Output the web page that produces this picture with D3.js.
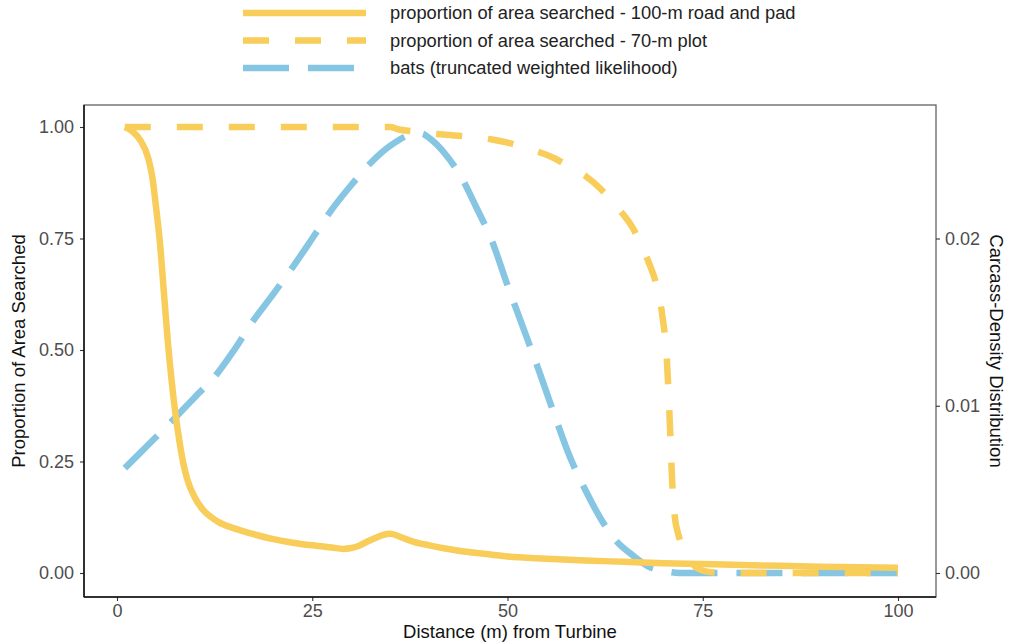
<!DOCTYPE html>
<html>
<head>
    <title>Proportion of area searched and carcass density</title>
    <script src="https://d3js.org/d3.v7.min.js"></script>
    <style>
        body {
            margin: 0;
            padding: 0;
            background: white;
            font-family: "Liberation Sans", Arial, sans-serif;
        }
        .tick-label {
            font-size: 18px;
            fill: #4d4d4d;
        }
        .axis-title {
            font-size: 18.5px;
            fill: #111;
        }
        .legend-label {
            font-size: 18.3px;
            fill: #222;
        }
    </style>
</head>
<body>
    <svg id="chart" width="1013" height="643"></svg>
    <script>
        // distance from turbine (m)
        const roadX = [1, 2, 3, 4, 4.5, 5, 5.5, 6, 6.5, 7, 7.5, 8, 8.5, 9, 10, 11, 12, 13, 15, 17.5, 20, 22.5, 25, 27.5, 29, 30, 31, 32, 33, 34, 35, 36, 37, 38, 40, 42, 45, 48, 50, 55, 60, 65, 70, 75, 80, 85, 90, 95, 100];
        const roadY = [1.0, 0.99, 0.97, 0.93, 0.89, 0.82, 0.74, 0.63, 0.52, 0.43, 0.355, 0.295, 0.245, 0.21, 0.168, 0.142, 0.126, 0.114, 0.1, 0.087, 0.076, 0.068, 0.062, 0.057, 0.054, 0.056, 0.061, 0.07, 0.078, 0.085, 0.088, 0.083, 0.076, 0.07, 0.062, 0.055, 0.047, 0.041, 0.037, 0.032, 0.028, 0.025, 0.022, 0.02, 0.018, 0.016, 0.014, 0.013, 0.012];

        const plotX = [1, 10, 20, 30, 35, 36, 38, 40, 44, 48, 50, 53, 56, 58, 60, 62, 64, 65, 66, 67, 68, 69, 69.8, 70.4, 70.8, 71.1, 71.4, 71.9, 72.8, 73.7, 74.6, 76, 78, 85, 100];
        const plotY = [1, 1, 1, 1, 1, 0.995, 0.99, 0.986, 0.98, 0.972, 0.965, 0.95, 0.93, 0.91, 0.89, 0.86, 0.82, 0.8, 0.775, 0.74, 0.7, 0.65, 0.58, 0.48, 0.33, 0.2, 0.13, 0.085, 0.045, 0.02, 0.008, 0.002, 0, 0, 0];

        // bat carcass-density distribution (right axis)
        const batX = [1, 3, 5, 7, 10, 12.5, 15, 17.5, 20, 22.5, 25, 27.5, 30, 32.5, 35, 37.5, 39, 40, 42, 44, 46, 48, 50, 52, 54, 56, 58, 60, 62, 64, 66, 68, 70, 72, 75, 85, 100];
        const batY = [0.00627, 0.0072, 0.00813, 0.00907, 0.01053, 0.01173, 0.01333, 0.01512, 0.01667, 0.01829, 0.02, 0.02173, 0.0232, 0.02453, 0.02555, 0.02619, 0.02627, 0.026, 0.02507, 0.02373, 0.02187, 0.01987, 0.0172, 0.01467, 0.01213, 0.00947, 0.00693, 0.00493, 0.0032, 0.00187, 0.00107, 0.0004, 0.00013, 0, 0, 0, 0];

        const xTicks = [0, 25, 50, 75, 100];
        const yTicks = [0, 0.25, 0.5, 0.75, 1];
        const y2Ticks = [0, 0.01, 0.02];
        const secFactor = 37.5;

        const seriesNames = [
            'proportion of area searched - 100-m road and pad',
            'proportion of area searched - 70-m plot',
            'bats (truncated weighted likelihood)'
        ];
        const yellow = '#f8cd5a';
        const blue = '#86c6e3';

        const svg = d3.select('#chart');

        // panel box
        const panel = { left: 84, right: 936, top: 105, bottom: 597 };

        const x = d3.scaleLinear().domain([0, 100]).range([117, 898]);
        const y = d3.scaleLinear().domain([0, 1]).range([573, 127]);
        const y2 = d3.scaleLinear().domain([0, 1 / secFactor]).range([573, 127]);

        const fmt2 = d3.format('.2f');

        svg.append('rect')
            .attr('x', panel.left).attr('y', panel.top)
            .attr('width', panel.right - panel.left)
            .attr('height', panel.bottom - panel.top)
            .attr('fill', 'none')
            .attr('stroke', '#555')
            .attr('stroke-width', 1.2);

        const left = svg.append('g').attr('transform', `translate(${panel.left},0)`)
            .call(d3.axisLeft(y).tickValues(yTicks).tickFormat(fmt2).tickSize(4).tickPadding(6));
        const right = svg.append('g').attr('transform', `translate(${panel.right},0)`)
            .call(d3.axisRight(y2).tickValues(y2Ticks).tickFormat(fmt2).tickSize(4).tickPadding(5));
        const bottom = svg.append('g').attr('transform', `translate(0,${panel.bottom})`)
            .call(d3.axisBottom(x).tickValues(xTicks).tickSize(4).tickPadding(3));

        [left, right, bottom].forEach(g => {
            g.select('.domain').remove();
            g.selectAll('.tick line').attr('stroke', '#333').attr('stroke-width', 1.1);
            g.selectAll('.tick text').attr('class', 'tick-label').attr('font-family', null).attr('font-size', null);
        });

        // left and bottom axis lines
        svg.append('line')
            .attr('x1', panel.left).attr('x2', panel.left)
            .attr('y1', panel.top).attr('y2', panel.bottom)
            .attr('stroke', '#111').attr('stroke-width', 1.5);
        svg.append('line')
            .attr('x1', panel.left).attr('x2', panel.right)
            .attr('y1', panel.bottom).attr('y2', panel.bottom)
            .attr('stroke', '#111').attr('stroke-width', 1.5);

        const line = (xs, ys, scale) => d3.line()
            .x((d, i) => x(xs[i]))
            .y(d => scale(d))
            .curve(d3.curveMonotoneX)(ys);

        const plotArea = svg.append('g');

        plotArea.append('path')
            .attr('d', line(batX, batY, y2))
            .attr('fill', 'none').attr('stroke', blue)
            .attr('stroke-width', 6.5).attr('stroke-dasharray', '46,19');

        plotArea.append('path')
            .attr('d', line(plotX, plotY, y))
            .attr('fill', 'none').attr('stroke', yellow)
            .attr('stroke-width', 6.5).attr('stroke-dasharray', '26,26');

        plotArea.append('path')
            .attr('d', line(roadX, roadY, y))
            .attr('fill', 'none').attr('stroke', yellow)
            .attr('stroke-width', 6.5);

        // axis titles
        svg.append('text').attr('class', 'axis-title')
            .attr('x', (panel.left + panel.right) / 2).attr('y', 638)
            .attr('text-anchor', 'middle')
            .text('Distance (m) from Turbine');

        svg.append('text').attr('class', 'axis-title')
            .attr('transform', `translate(25,${(panel.top + panel.bottom) / 2}) rotate(-90)`)
            .attr('text-anchor', 'middle')
            .text('Proportion of Area Searched');

        svg.append('text').attr('class', 'axis-title')
            .attr('transform', `translate(990,${(panel.top + panel.bottom) / 2}) rotate(90)`)
            .attr('text-anchor', 'middle')
            .text('Carcass-Density Distribution');

        // legend
        const legendStyles = [
            { color: yellow, dash: null },
            { color: yellow, dash: '26,26' },
            { color: blue, dash: '46,19' }
        ];
        const legend = svg.append('g').attr('transform', 'translate(243,13)');
        seriesNames.forEach((name, i) => {
            const row = legend.append('g').attr('transform', `translate(0,${i * 27.5})`);
            row.append('line')
                .attr('x1', 0).attr('x2', 123).attr('y1', 0).attr('y2', 0)
                .attr('stroke', legendStyles[i].color)
                .attr('stroke-width', 6.5)
                .attr('stroke-dasharray', legendStyles[i].dash);
            row.append('text').attr('class', 'legend-label')
                .attr('x', 147).attr('y', 0).attr('dy', '0.35em')
                .text(name);
        });
    </script>
</body>
</html>
